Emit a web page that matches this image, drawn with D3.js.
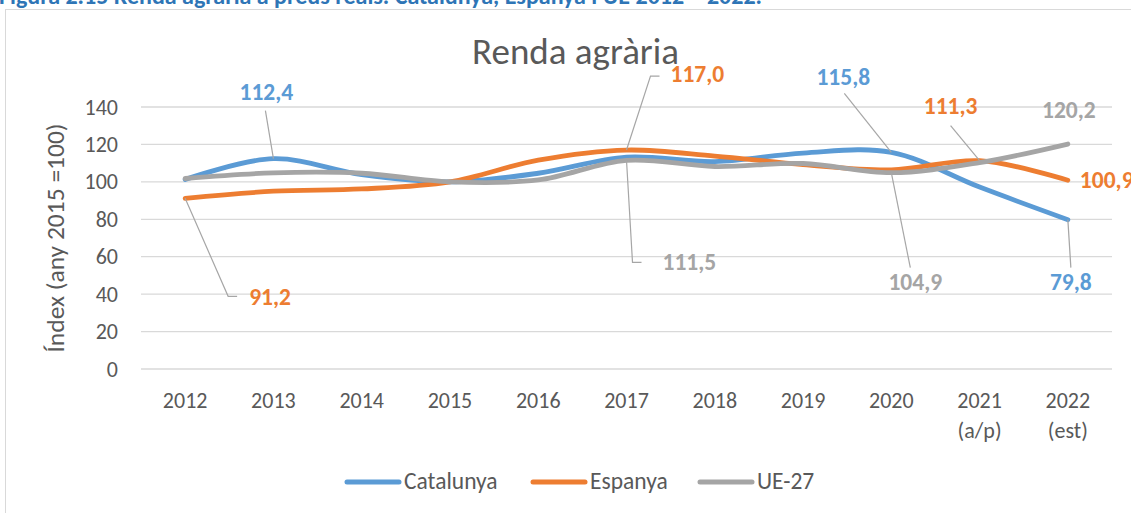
<!DOCTYPE html>
<html>
<head>
<meta charset="utf-8">
<script src="https://cdn.jsdelivr.net/npm/d3@7"></script>
<style>
  html, body { margin: 0; padding: 0; background: #fff; }
  svg { display: block; font-family: Carlito, Lato, "Open Sans", sans-serif; }
</style>
</head>
<body>
<svg id="chart" width="1131" height="513"></svg>
<script>
const categories = ["2012","2013","2014","2015","2016","2017","2018","2019","2020","2021 (a/p)","2022 (est)"];
const catalunya = [101.3, 112.4, 103.9, 100.0, 104.6, 113.2, 110.8, 115.4, 115.8, 97.2, 79.8];
const espanya   = [91.2, 95.0, 96.2, 100.0, 111.6, 117.0, 113.8, 109.2, 106.4, 111.3, 100.9];
const ue27      = [101.8, 104.8, 104.6, 100.0, 101.0, 111.5, 108.2, 109.8, 104.9, 110.3, 120.2];
const seriesNames = ["Catalunya", "Espanya", "UE-27"];
const yTicks = [0, 20, 40, 60, 80, 100, 120, 140];
const chartTitle = "Renda agrària";
const figureTitle = "Figura 2.15 Renda agrària a preus reals. Catalunya, Espanya i UE 2012 – 2022.";
const yTitle = "Índex (any 2015 =100)";

const colors = ["#5B9BD5", "#ED7D31", "#A5A5A5"];
const seriesData = [catalunya, espanya, ue27];

const svg = d3.select("#chart");

// figure caption (cut at top edge, as in the source)
svg.append("text").attr("x", -1).attr("y", 4)
  .attr("fill", "#2E75B6").attr("font-weight", "bold").attr("font-size", 24)
  .text(figureTitle);

// chart frame
svg.append("rect").attr("x", 5.5).attr("y", 9.5).attr("width", 1140).attr("height", 520)
  .attr("fill", "none").attr("stroke", "#D9D9D9").attr("stroke-width", 1);

const x = d3.scaleBand().domain(categories).range([141, 1112]).paddingInner(0).paddingOuter(0);
const cx = i => x(categories[i]) + x.bandwidth() / 2;
const y = d3.scaleLinear().domain([0, 140]).range([369, 107]);

// gridlines
svg.append("g").selectAll("line").data(yTicks).join("line")
  .attr("x1", 141).attr("x2", 1112)
  .attr("y1", d => y(d)).attr("y2", d => y(d))
  .attr("stroke", "#D9D9D9").attr("stroke-width", 1.3);

// y axis labels
const yAxis = svg.append("g").attr("transform", "translate(141,0)")
  .call(d3.axisLeft(y).tickValues(yTicks).tickSize(0).tickPadding(23));
yAxis.select(".domain").remove();
yAxis.selectAll("text").attr("font-size", 22).attr("fill", "#595959")
  .attr("font-family", "Carlito, Lato, sans-serif");

// x axis labels
const xAxis = svg.append("g").attr("transform", "translate(0,369)")
  .call(d3.axisBottom(x).tickSize(0));
xAxis.select(".domain").remove();
xAxis.selectAll("text").attr("font-size", 22).attr("fill", "#595959")
  .attr("font-family", "Carlito, Lato, sans-serif")
  .attr("y", 0).attr("dy", null)
  .each(function(d) {
    const parts = d.split(" ");
    const t = d3.select(this).text(null);
    parts.forEach((p, k) => {
      t.append("tspan").attr("x", 0).attr("y", k === 0 ? 39 : 69).text(p);
    });
  });

// y title
svg.append("text")
  .attr("transform", "translate(64,238) rotate(-90)")
  .attr("text-anchor", "middle").attr("font-size", 25.5).attr("fill", "#595959")
  .text(yTitle);

// chart title
svg.append("text").attr("x", 575.5).attr("y", 64).attr("text-anchor", "middle")
  .attr("font-size", 37).attr("fill", "#595959").text(chartTitle);

// lines
const line = d3.line().x((d, i) => cx(i)).y(d => y(d)).curve(d3.curveCatmullRom.alpha(0.5));
seriesData.forEach((s, k) => {
  svg.append("path").datum(s).attr("d", line)
    .attr("fill", "none").attr("stroke", colors[k]).attr("stroke-width", 4.8)
    .attr("stroke-linecap", "round").attr("stroke-linejoin", "round");
});

// data labels: series index, category index, label offset and leader path offsets
const fmt = v => d3.format(".1f")(v).replace(".", ",");
const labelSpecs = [
  { s: 0, i: 1, dx: -7, dy: -59, anchor: "middle", leader: [[-8, -48]] },
  { s: 1, i: 0, dx: 64, dy: 107, anchor: "start", leader: [[43, 98], [52, 98]] },
  { s: 1, i: 5, dx: 44, dy: -68, anchor: "start", leader: [[24, -74], [33, -74]] },
  { s: 2, i: 5, dx: 36, dy: 110, anchor: "start", leader: [[6, 102], [15, 102]] },
  { s: 0, i: 8, dx: -48, dy: -67, anchor: "middle", leader: [[-47, -59]] },
  { s: 1, i: 9, dx: -29, dy: -47, anchor: "middle", leader: [[-29, -35]] },
  { s: 2, i: 10, dx: 1, dy: -26, anchor: "middle", leader: null },
  { s: 1, i: 10, dx: 12, dy: 8, anchor: "start", leader: null },
  { s: 0, i: 10, dx: 3, dy: 70, anchor: "middle", leader: [[3, 48]] },
  { s: 2, i: 8, dx: 24, dy: 117, anchor: "middle", leader: [[19, 95]] }
];
const lg = svg.append("g");
labelSpecs.forEach(sp => {
  const px = cx(sp.i), py = y(seriesData[sp.s][sp.i]);
  if (sp.leader) {
    const pts = [[px, py]].concat(sp.leader.map(p => [px + p[0], py + p[1]]));
    lg.append("path").attr("d", d3.line()(pts))
      .attr("fill", "none").attr("stroke", "#A6A6A6").attr("stroke-width", 1.2);
  }
  lg.append("text").attr("x", px + sp.dx).attr("y", py + sp.dy)
    .attr("text-anchor", sp.anchor).attr("font-size", 23.5).attr("font-weight", "bold")
    .attr("fill", colors[sp.s]).text(fmt(seriesData[sp.s][sp.i]));
});

// legend
const legendX = [347, 533, 700];
const leg = svg.append("g");
seriesNames.forEach((n, k) => {
  leg.append("line").attr("x1", legendX[k]).attr("x2", legendX[k] + 52)
    .attr("y1", 482).attr("y2", 482)
    .attr("stroke", colors[k]).attr("stroke-width", 5).attr("stroke-linecap", "round");
  leg.append("text").attr("x", legendX[k] + 57).attr("y", 489)
    .attr("font-size", 23.5).attr("fill", "#595959").text(n);
});
</script>
</body>
</html>
